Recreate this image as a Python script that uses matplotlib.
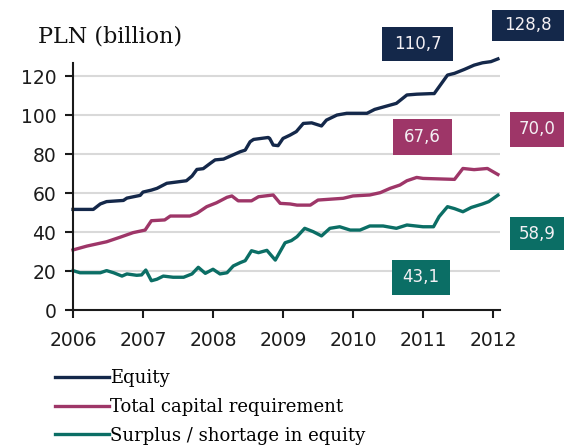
import numpy as np
import matplotlib.pyplot as plt
from matplotlib.patches import Rectangle

# dates as decimal years, values in PLN billion
t_eq = [2006.0, 2006.29, 2006.39, 2006.48, 2006.72, 2006.77, 2006.96, 2007.0, 2007.12, 2007.2,
        2007.34, 2007.62, 2007.70, 2007.77, 2007.86, 2007.96, 2008.03, 2008.15, 2008.39, 2008.46,
        2008.53, 2008.58, 2008.79, 2008.81, 2008.86, 2008.93, 2009.0, 2009.1, 2009.19, 2009.29,
        2009.41, 2009.55, 2009.62, 2009.77, 2009.91, 2010.2, 2010.31, 2010.48, 2010.62, 2010.77,
        2010.91, 2011.12, 2011.16, 2011.23, 2011.35, 2011.45, 2011.59, 2011.73, 2011.85, 2011.97,
        2012.07]
equity = [51.6, 51.6, 54.4, 55.6, 56.2, 57.4, 58.8, 60.5, 61.5, 62.4,
          65.0, 66.3, 68.7, 72.1, 72.5, 75.2, 77.0, 77.4, 81.2, 82.0,
          86.3, 87.5, 88.5, 88.0, 84.6, 84.3, 88.0, 89.7, 91.5, 95.7,
          96.0, 94.4, 97.4, 100.0, 100.9, 100.9, 102.9, 104.6, 106.0, 110.3,
          110.7, 111.0, 111.0, 114.5, 120.5, 121.4, 123.4, 125.6, 126.8, 127.4,
          128.8]

t_req = [2006.0, 2006.2, 2006.48, 2006.67, 2006.86, 2007.03, 2007.12, 2007.31, 2007.39, 2007.67,
         2007.77, 2007.91, 2008.05, 2008.2, 2008.27, 2008.36, 2008.55, 2008.65, 2008.86, 2008.96,
         2009.1, 2009.2, 2009.39, 2009.5, 2009.86, 2010.0, 2010.24, 2010.39, 2010.53, 2010.67,
         2010.77, 2010.91, 2011.0, 2011.45, 2011.57, 2011.73, 2011.92, 2012.07]
requirement = [30.8, 32.8, 35.0, 37.3, 39.7, 41.0, 45.8, 46.2, 48.2, 48.2,
               49.6, 53.0, 55.0, 57.8, 58.5, 56.0, 56.0, 58.1, 59.0, 54.7,
               54.4, 53.8, 53.8, 56.4, 57.3, 58.5, 59.0, 60.2, 62.4, 64.1,
               66.3, 68.0, 67.5, 67.0, 72.6, 72.0, 72.6, 69.5]

t_sur = [2006.0, 2006.1, 2006.39, 2006.48, 2006.58, 2006.7, 2006.77, 2006.91, 2006.98, 2007.04,
         2007.12, 2007.2, 2007.29, 2007.43, 2007.58, 2007.7, 2007.79, 2007.89, 2008.0, 2008.1,
         2008.2, 2008.29, 2008.39, 2008.46, 2008.55, 2008.65, 2008.77, 2008.89, 2009.03, 2009.12,
         2009.2, 2009.31, 2009.43, 2009.55, 2009.67, 2009.81, 2009.96, 2010.1, 2010.24, 2010.43,
         2010.62, 2010.77, 2011.0, 2011.15, 2011.23, 2011.35, 2011.45, 2011.57, 2011.69, 2011.85,
         2011.94, 2012.07]
surplus = [20.2, 19.1, 19.1, 20.2, 19.1, 17.4, 18.5, 17.8, 18.0, 20.5,
           15.0, 15.8, 17.4, 16.8, 16.8, 18.5, 21.9, 18.8, 20.9, 18.5,
           19.1, 22.6, 24.3, 25.3, 30.4, 29.4, 30.6, 25.6, 34.5, 35.6,
           37.6, 41.9, 40.2, 38.0, 41.9, 42.7, 41.0, 41.0, 43.1, 43.1,
           41.9, 43.6, 42.7, 42.7, 47.9, 53.0, 52.0, 50.4, 52.6, 54.4,
           55.6, 58.9]

series_names = ['Equity', 'Total capital requirement', 'Surplus / shortage in equity']
navy = '#14284a'
maroon = '#9e3668'
teal = '#0b6e65'

years = [2006, 2007, 2008, 2009, 2010, 2011, 2012]
yticks = [0, 20, 40, 60, 80, 100, 120]

# value boxes: text, colour, (x0, y0, x1, y1) in pixels from top-left
boxes = [('110,7', navy, (382, 27, 453, 61)),
         ('128,8', navy, (492, 10, 564, 41)),
         ('67,6', maroon, (393, 119, 452, 155)),
         ('70,0', maroon, (510, 112, 564, 147)),
         ('43,1', teal, (392, 260, 450, 295)),
         ('58,9', teal, (510, 217, 564, 250))]

W, H = 564, 445
fig = plt.figure(figsize=(W / 100, H / 100), dpi=100)
ax = fig.add_axes([73 / W, 1 - 310 / H, (500 - 73) / W, (310 - 63) / H])

ax.plot(t_eq, equity, color=navy, lw=2.4, label=series_names[0], clip_on=False)
ax.plot(t_req, requirement, color=maroon, lw=2.4, label=series_names[1], clip_on=False)
ax.plot(t_sur, surplus, color=teal, lw=2.4, label=series_names[2], clip_on=False)

ax.set_xlim(2006, 2012.1)
ax.set_ylim(0, 126.7)
ax.set_xticks(years)
ax.set_xticklabels([str(y) for y in years])
ax.set_yticks(yticks)
for v in yticks[1:]:
    ax.axhline(v, color='#d9d9d9', lw=1.5, zorder=0)
for s in ['top', 'right']:
    ax.spines[s].set_visible(False)
for s in ['left', 'bottom']:
    ax.spines[s].set_linewidth(1.5)
    ax.spines[s].set_color('#1a1a1a')
ax.tick_params(direction='out', length=6, width=1.5, color='#1a1a1a',
               labelsize=13.5, labelcolor='#1c1c1c')
ax.tick_params(axis='y', pad=6)
ax.tick_params(axis='x', pad=9)
for lab in ax.get_xticklabels() + ax.get_yticklabels():
    lab.set_family('DejaVu Sans')

fig.text(38 / W, 1 - 42 / H, 'PLN (billion)', family='DejaVu Serif', fontsize=16,
         va='baseline', ha='left', color='#111111')

for txt, col, (x0, y0, x1, y1) in boxes:
    fig.add_artist(Rectangle((x0 / W, 1 - y1 / H), (x1 - x0) / W, (y1 - y0) / H,
                             transform=fig.transFigure, facecolor=col, edgecolor='none'))
    fig.text((x0 + x1) / 2 / W, 1 - (y0 + y1) / 2 / H, txt, color='#f4f0f4',
             fontsize=12, ha='center', va='center', family='DejaVu Sans')

fig.legend(loc='upper left', bbox_to_anchor=(55 / W, 1 - 369 / H), frameon=False,
           prop={'family': 'DejaVu Serif', 'size': 13}, handlelength=3.0,
           handletextpad=0.05, borderpad=0, borderaxespad=0, labelspacing=0.6)

fig.savefig('out.png', dpi=100)
